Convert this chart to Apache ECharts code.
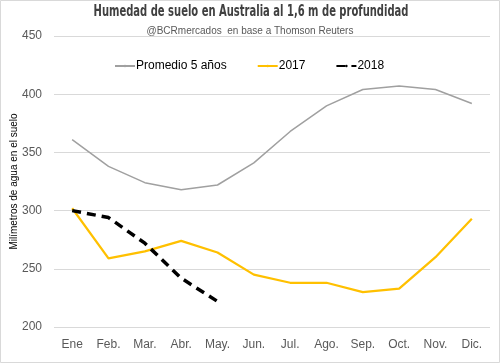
<!DOCTYPE html>
<html><head><meta charset="utf-8">
<script src="https://cdn.jsdelivr.net/npm/echarts@6/dist/echarts.min.js"></script>
<style>html,body{margin:0;padding:0;background:#fff}#c{width:500px;height:363px}</style>
</head><body><div id="c"></div>
<script>
const categories = ['Ene','Feb.','Mar.','Abr.','May.','Jun.','Jul.','Ago.','Sep.','Oct.','Nov.','Dic.'];
const promedio5 = [361, 338, 324, 318, 322, 341, 368, 390, 404, 407, 404, 392];
const y2017 = [302, 259, 265, 274, 264, 245, 238, 238, 230, 233, 260, 293];
const y2018 = [300, 294, 272, 242, 222];
const yTicks = [200, 250, 300, 350, 400, 450];
const titleText = 'Humedad de suelo en Australia al 1,6 m de profundidad';
const subtitleText = '@BCRmercados  en base a Thomson Reuters';

const chart = echarts.init(document.getElementById('c'), null, {renderer:'canvas'});
chart.setOption({
  animation:false,
  backgroundColor:'#fff',
  title:[
    {text:subtitleText, left:'center', top:21,
     textStyle:{fontFamily:'Liberation Sans', fontWeight:'normal', fontSize:10, color:'#595959'}}
  ],
  legend:{
    top:55, left:109, itemWidth:20, itemHeight:3, itemGap:30, selectedMode:false,
    textStyle:{fontFamily:'Liberation Sans', fontSize:12, color:'#000', padding:[0,0,0,-4]},
    data:[{name:'Promedio 5 años', itemStyle:{}}, '2017', '2018']
  },
  grid:{left:54, right:10, top:36, bottom:36, containLabel:false, outerBoundsMode:'none'},
  xAxis:{type:'category', data:categories, boundaryGap:true,
    axisLine:{show:false}, axisTick:{show:false},
    axisLabel:{fontFamily:'Liberation Sans', fontSize:12, color:'#595959', margin:12}},
  yAxis:{type:'value', min:yTicks[0], max:yTicks[yTicks.length-1], interval:50,
    name:'Milímetros de agua en el suelo', nameLocation:'middle', nameGap:35, nameRotate:90,
    nameMoveOverlap:false,
    nameTextStyle:{fontFamily:'Liberation Sans', fontSize:10, color:'#000'},
    axisLine:{show:false}, axisTick:{show:false},
    axisLabel:{fontFamily:'Liberation Sans', fontSize:12, color:'#595959', margin:12},
    splitLine:{lineStyle:{color:'#d9d9d9', width:1}}},
  series:[
    {name:'Promedio 5 años', type:'line', data:promedio5, symbol:'none', color:'#a0a0a0',
     lineStyle:{color:'#a0a0a0', width:1.5}},
    {name:'2017', type:'line', data:y2017, symbol:'none', color:'#ffc000',
     lineStyle:{color:'#ffc000', width:2.25}},
    {name:'2018', type:'line', data:y2018, symbol:'none', color:'#000',
     lineStyle:{color:'#000', width:3.5, type:[9,6]}}
  ],
  graphic:[
    {type:'rect', shape:{x:0.5,y:0.5,width:499,height:362}, style:{fill:null, stroke:'#d9d9d9', lineWidth:1}, silent:true},
    {type:'text', x:251, y:5, scaleX:0.74, silent:true,
     style:{text:titleText, font:'bold 15px "DejaVu Sans Condensed", "DejaVu Sans"', fill:'#404040', align:'center', verticalAlign:'top'}}
  ]
});
</script></body></html>
